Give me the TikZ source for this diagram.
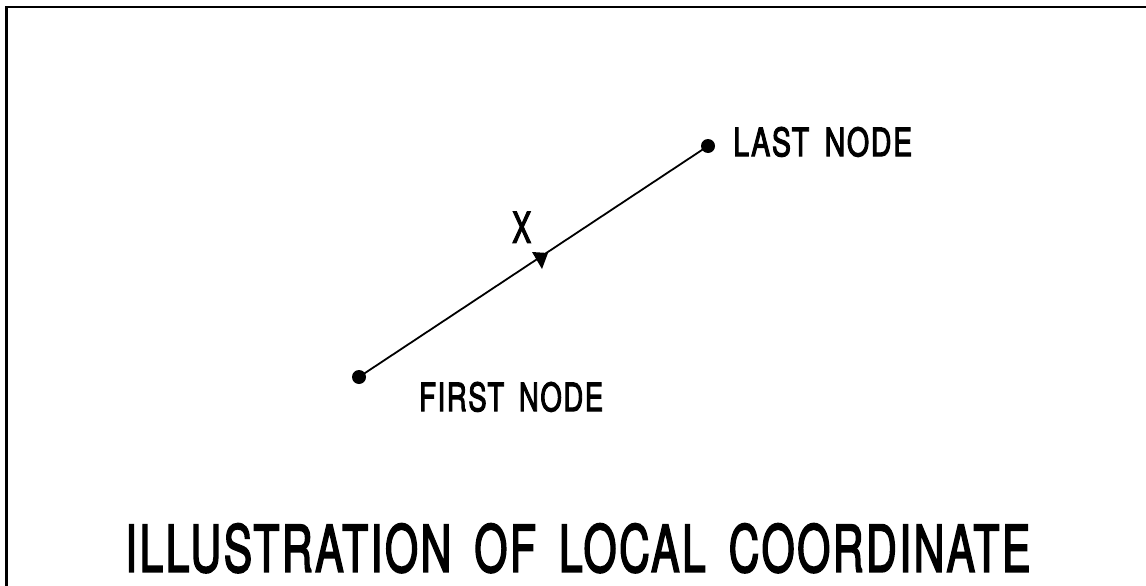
\documentclass[tikz,border=0pt]{standalone}
\usepackage{fontspec}
\newfontfamily\cadfont[FakeBold=3.2,LetterSpace=6,WordSpace=1.6]{TeX Gyre Heros}
\begin{document}
\begin{tikzpicture}[x=1pt,y=-1pt,
  endpt/.style={circle,inner sep=0pt,minimum size=14pt},
  lbl/.style={inner sep=0pt,anchor=south west,font=\cadfont},
  frame/.style={line width=2.2pt},
  member/.style={line width=1.8pt}]
\useasboundingbox (0,0) rectangle (1146,586);
% sheet border (top and left edges)
\draw[frame] (6.5,586) -- (6.5,7) -- (1146,7);
% member end nodes
\node[endpt] (first) at (359,377) {};
\node[endpt] (last) at (708,146) {};
\draw[member] (first.center) -- (last.center);
\fill (first.center) circle[radius=7pt];
\fill (last.center) circle[radius=7pt];
% local x-axis marker
\fill (532,252) -- (548,253) -- (542,269) -- cycle;
% labels
\node[lbl] (xlab) at (512,243) {\resizebox{19pt}{31pt}{X}};
\node[lbl] (lastlab) at (733,157) {\resizebox{179pt}{29pt}{LAST NODE}};
\node[lbl] (firstlab) at (419,412) {\resizebox{184pt}{29pt}{FIRST NODE}};
\node[lbl] (title) at (125,573) {\resizebox{905pt}{48pt}{ILLUSTRATION OF LOCAL COORDINATE}};
\end{tikzpicture}
\end{document}
